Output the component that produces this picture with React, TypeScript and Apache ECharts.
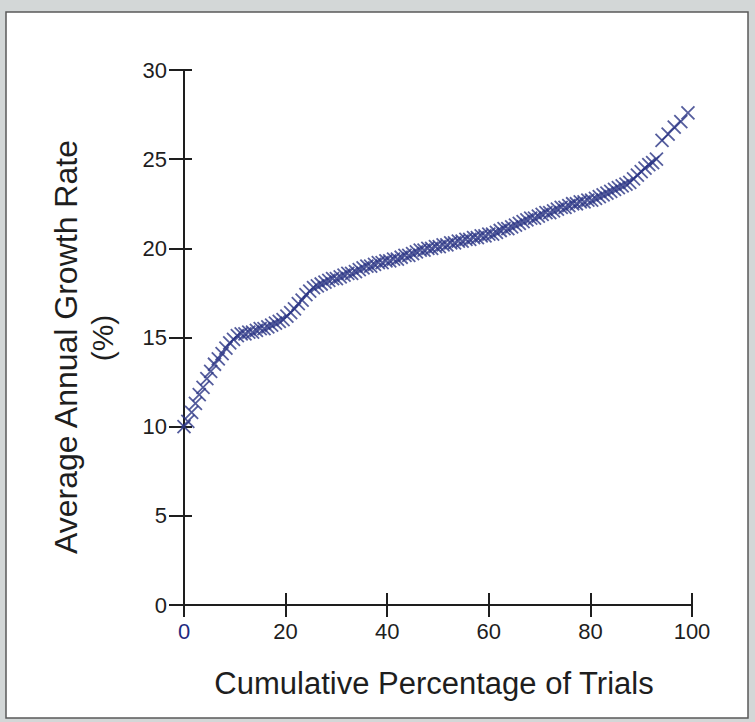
import React, { useEffect, useRef } from "react";
import * as echarts from "echarts";

const trialPct = [
  0, 0.75, 1.5, 2.25, 3, 3.75, 4.5, 5.25, 6, 6.75, 7.5, 8.25, 9, 9.75, 10.5, 11.25, 12, 12.75, 13.5, 14.25,
  15, 15.75, 16.5, 17.25, 18, 18.75, 19.5, 20.25, 21, 21.75, 22.5, 23.25, 24, 24.75, 25.5, 26.25, 27, 27.75,
  28.5, 29.25, 30, 30.75, 31.5, 32.25, 33, 33.75, 34.5, 35.25, 36, 36.75, 37.5, 38.25, 39, 39.75, 40.5, 41.25,
  42, 42.75, 43.5, 44.25, 45, 45.75, 46.5, 47.25, 48, 48.75, 49.5, 50.25, 51, 51.75, 52.5, 53.25, 54, 54.75,
  55.5, 56.25, 57, 57.75, 58.5, 59.25, 60, 60.75, 61.5, 62.25, 63, 63.75, 64.5, 65.25, 66, 66.75, 67.5, 68.25,
  69, 69.75, 70.5, 71.25, 72, 72.75, 73.5, 74.25, 75, 75.75, 76.5, 77.25, 78, 78.75, 79.5, 80.25, 81, 81.75,
  82.5, 83.25, 84, 84.75, 85.5, 86.25, 87, 87.75, 88.5, 89.25, 90, 90.75, 91.5, 92.25, 93,
  94.1, 95.3, 96.5, 97.8, 99.2,
];

const growthRate = [
  10.0, 10.3, 10.8, 11.3, 11.8, 12.2, 12.7, 13.1, 13.5, 13.8, 14.1, 14.4, 14.7, 14.9, 15.1, 15.2, 15.2, 15.3, 15.3, 15.4,
  15.5, 15.5, 15.6, 15.7, 15.8, 15.9, 16.0, 16.2, 16.4, 16.6, 16.9, 17.1, 17.4, 17.6, 17.8, 17.9, 18.0, 18.1,
  18.2, 18.3, 18.3, 18.4, 18.5, 18.6, 18.6, 18.7, 18.8, 18.9, 19.0, 19.0, 19.1, 19.2, 19.2, 19.3, 19.3, 19.4,
  19.4, 19.5, 19.6, 19.6, 19.7, 19.8, 19.9, 19.9, 20.0, 20.0, 20.1, 20.1, 20.2, 20.2, 20.3, 20.3, 20.4, 20.4,
  20.5, 20.5, 20.6, 20.6, 20.7, 20.7, 20.8, 20.8, 20.9, 21.0, 21.1, 21.1, 21.2, 21.3, 21.4, 21.5, 21.6, 21.7,
  21.7, 21.8, 21.9, 22.0, 22.0, 22.1, 22.2, 22.3, 22.3, 22.4, 22.5, 22.5, 22.6, 22.6, 22.7, 22.7, 22.8, 22.9,
  23.0, 23.1, 23.2, 23.3, 23.4, 23.5, 23.6, 23.7, 23.9, 24.1, 24.3, 24.5, 24.7, 24.8, 25.0,
  26.05, 26.4, 26.8, 27.1, 27.6,
];

const xTicks = [0, 20, 40, 60, 80, 100];
const yTicks = [0, 5, 10, 15, 20, 25, 30];

const xTitle = "Cumulative Percentage of Trials";
const yTitleLine1 = "Average Annual Growth Rate";
const yTitleLine2 = "(%)";

const INK = "#1e1e1e";
const MARK = "#2a3585";
const FONT = "'Liberation Sans', Arial, sans-serif";

export default function App() {
  const ref = useRef<HTMLDivElement>(null);

  useEffect(() => {
    if (!ref.current) return;
    const chart = echarts.init(ref.current, undefined, { renderer: "svg" });
    const points = trialPct.map((x, i) => [x, growthRate[i]]);
    const xMin = xTicks[0];
    const xMax = xTicks[xTicks.length - 1];
    const yMin = yTicks[0];
    const yMax = yTicks[yTicks.length - 1];
    const xInt = xTicks[1] - xTicks[0];
    const yInt = yTicks[1] - yTicks[0];

    const axisLine = { show: true, lineStyle: { color: INK, width: 2 } };

    chart.setOption({
      animation: false,
      backgroundColor: "#d3d7d7",
      graphic: [
        {
          type: "rect",
          z: -10,
          shape: { x: 6, y: 12, width: 742, height: 706 },
          style: { fill: "#ffffff", stroke: "#5a5a5a", lineWidth: 1.5 },
        },
        {
          type: "text",
          x: 66,
          y: 347,
          rotation: Math.PI / 2,
          style: {
            text: yTitleLine1,
            fill: INK,
            font: `32px ${FONT}`,
            align: "center",
            verticalAlign: "middle",
          },
        },
        {
          type: "text",
          x: 102,
          y: 338,
          rotation: Math.PI / 2,
          style: {
            text: yTitleLine2,
            fill: INK,
            font: `30px ${FONT}`,
            align: "center",
            verticalAlign: "middle",
          },
        },
        {
          type: "text",
          x: 434,
          y: 683,
          style: {
            text: xTitle,
            fill: INK,
            font: `31px ${FONT}`,
            align: "center",
            verticalAlign: "middle",
          },
        },
      ],
      grid: { left: 184, right: 63, top: 70, bottom: 117, containLabel: false },
      xAxis: [
        {
          type: "value",
          position: "bottom",
          min: xMin,
          max: xMax,
          interval: xInt,
          axisLine,
          axisTick: { show: true, inside: false, length: 12, lineStyle: { color: INK, width: 2 } },
          splitLine: { show: false },
          axisLabel: {
            margin: 15,
            fontSize: 22,
            fontFamily: FONT,
            color: (v: any) => (Number(v) === 0 ? "#1f2a80" : INK),
          },
        },
        {
          type: "value",
          position: "bottom",
          min: xMin,
          max: xMax,
          interval: xInt,
          axisLine: { show: false },
          axisTick: { show: true, inside: true, length: 12, lineStyle: { color: INK, width: 2 } },
          splitLine: { show: false },
          axisLabel: { show: false },
        },
      ],
      yAxis: [
        {
          type: "value",
          position: "left",
          min: yMin,
          max: yMax,
          interval: yInt,
          axisLine,
          axisTick: { show: true, inside: false, length: 15, lineStyle: { color: INK, width: 2 } },
          splitLine: { show: false },
          axisLabel: { margin: 17, fontSize: 22, fontFamily: FONT, color: INK },
        },
        {
          type: "value",
          position: "left",
          min: yMin,
          max: yMax,
          interval: yInt,
          axisLine: { show: false },
          axisTick: { show: true, inside: true, length: 8, lineStyle: { color: INK, width: 2 } },
          splitLine: { show: false },
          axisLabel: { show: false },
        },
      ],
      series: [
        {
          type: "scatter",
          xAxisIndex: 0,
          yAxisIndex: 0,
          data: points,
          symbol: "path://M0 0 L10 10 M10 0 L0 10",
          symbolSize: 13,
          itemStyle: { color: "none", borderColor: MARK, borderWidth: 1.8 },
          emphasis: { disabled: true },
        },
      ],
    });
    return () => chart.dispose();
  }, []);

  return (
    <div
      ref={ref}
      style={{ position: "fixed", left: 0, top: 0, width: 755, height: 722 }}
    />
  );
}
